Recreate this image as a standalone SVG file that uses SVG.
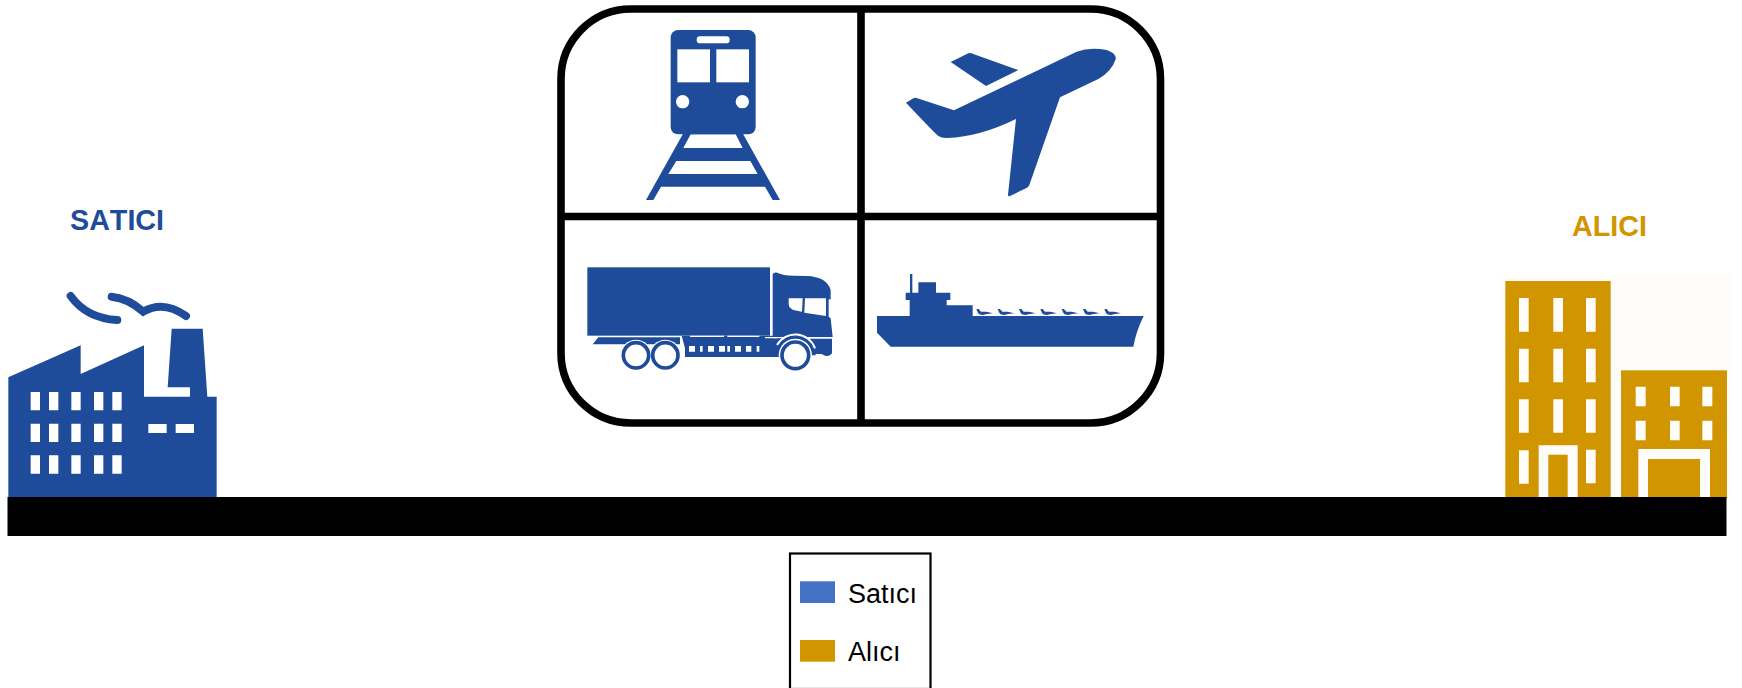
<svg xmlns="http://www.w3.org/2000/svg" width="1742" height="688" viewBox="0 0 1742 688">
<style>
.b{fill:#1E4C9A}
.g{fill:#D19500}
.w{fill:#fff}
.c{fill:#FFFDF9}
.h{font-family:"Liberation Sans",Arial,sans-serif;font-weight:700;font-size:28.7px;font-kerning:none}
.l{font-family:"Liberation Sans",Arial,sans-serif;font-size:27px;fill:#000;font-kerning:none}
</style>
<rect width="1742" height="688" fill="#fff"/>
<g id="satici">
<text class="h" x="70" y="230" fill="#1E4C9A">SATICI</text>
<g transform="translate(0,190) scale(0.33333)">
<path class="b" d="M25,562L242,466V552L432,466V620H570V592H503L515,416H608L622,620H650V925H25Z"/>
<path d="M212,318Q260,385 352,390M335,320Q385,325 430,365Q490,330 558,378" fill="none" stroke="#1E4C9A" stroke-width="24" stroke-linecap="round"/>
<path class="w" d="M92,606h28v55h-28zM147,606h28v55h-28zM214,606h28v55h-28zM282,606h28v55h-28zM337,606h28v55h-28zM92,701h28v55h-28zM147,701h28v55h-28zM214,701h28v55h-28zM282,701h28v55h-28zM337,701h28v55h-28zM92,796h28v55h-28zM147,796h28v55h-28zM214,796h28v55h-28zM282,796h28v55h-28zM337,796h28v55h-28zM445,702h55v27h-55zM527,702h55v27h-55z"/>
</g>
</g>
<g id="alici">
<text class="h" x="1572" y="235.7" fill="#D19500">ALICI</text>
<g transform="translate(1480,190) scale(0.33333)">
<rect class="c" x="55" y="252" width="702" height="673"/>
<rect class="g" x="76" y="273" width="316" height="652"/>
<rect class="g" x="423" y="541" width="318" height="384"/>
<path class="c" d="M117,324h29v101h-29zM220,324h29v101h-29zM318,324h29v101h-29zM117,476h29v101h-29zM220,476h29v101h-29zM318,476h29v101h-29zM117,628h29v100h-29zM220,628h29v100h-29zM318,628h29v100h-29zM117,781h29v100h-29zM318,779h29v101h-29zM176,766h117v159h-117zM467,590h30v59h-30zM570,590h29v59h-29zM667,590h30v59h-30zM467,692h30v59h-30zM570,692h29v59h-29zM667,692h30v59h-30zM475,777h215v148h-215z"/>
<rect class="g" x="205" y="794" width="58" height="131"/>
<rect class="g" x="504" y="807" width="156" height="118"/>
</g>
</g>
<g id="ground"><rect x="7.5" y="497" width="1719" height="39" fill="#000"/></g>
<g id="transport">
<rect x="561" y="9" width="599.5" height="414" rx="70" ry="70" fill="#fff" stroke="#000" stroke-width="7.6"/>
<path d="M861,9V423M561,216.5H1160.5" fill="none" stroke="#000" stroke-width="7.6"/>
</g>
<g id="train" transform="translate(550,0) scale(0.33333)">
<rect class="b" x="362" y="90" width="255" height="313" rx="22"/>
<rect class="w" x="440" y="109" width="99" height="21" rx="10"/>
<rect class="w" x="382" y="148" width="98" height="99"/>
<rect class="w" x="499" y="148" width="98" height="99"/>
<circle class="w" cx="398" cy="305" r="20"/>
<circle class="w" cx="577" cy="305" r="20"/>
<path class="b" fill-rule="evenodd" d="M288,600L400,400H578L690,600H668L645,560H333L310,600ZM422,403L400,444H578L557,403ZM379,483L355,522H623L601,483Z"/>
</g>
<g id="plane" transform="translate(860,0) scale(0.33333)">
<path class="b" d="M272,186L325,160Q332,158 340,162L475,210L378,258Z"/>
<path class="b" d="M138,308L160,295Q166,292 172,295L282,331L650,155Q690,140 740,150Q770,160 767,178Q755,215 715,237L600,292L508,555Q505,562 498,565L450,588Q444,590 444,584L468,357Q360,410 262,414Q245,415 235,408Q220,395 138,308Z"/>
</g>
<g id="truck" transform="translate(550,210) scale(0.33333)">
<rect class="b" x="112" y="172" width="548" height="205"/>
<path class="b" d="M668,192Q672,186 682,188Q700,197 730,197L770,198Q830,200 842,240V268H836V320L842,325L848,381H668Z"/>
<path class="w" d="M716,265H758L756,305L730,300Q716,295 716,280ZM765,265H828V318L763,308Z"/>
<path class="b" d="M128,403L145,382H390V403Z"/>
<path class="b" d="M395,377H672V385H700L690,441H405V415Z"/>
<path class="b" d="M780,386H846V430Q840,440 825,437L815,432H780Z"/>
<path class="w" d="M420,377h102v4h-102zM532,377h96v4h-96zM645,381h35v4h-35zM417,408h18v17h-18zM450,408h8v17h-8zM474,408h18v17h-18zM507,408h18v17h-18zM532,408h8v17h-8zM555,408h18v17h-18zM588,408h16v17h-16zM620,408h8v17h-8z"/>
<path d="M681,436A55,55 0 0 1 791,436" fill="none" stroke="#1E4C9A" stroke-width="12"/>
<path d="M681,405A63,63 0 0 1 795,415" fill="none" stroke="#fff" stroke-width="6"/>
<circle class="w" cx="736" cy="436" r="50"/>
<circle class="w" cx="258" cy="436" r="47"/>
<circle class="w" cx="346" cy="436" r="47"/>
<g fill="#fff" stroke="#1E4C9A" stroke-width="11">
<circle cx="258" cy="436" r="38"/>
<circle cx="346" cy="436" r="38"/>
<circle cx="736" cy="436" r="40"/>
</g>
</g>
<g id="ship" transform="translate(860,210) scale(0.33333)">
<path class="b" d="M51,318H851Q828,365 820,410H92L51,368Z"/>
<path class="b" d="M149,318V270H137V248H150V192H157V248H175V217H228V248H271V270H260V286H338V318Z"/>
<defs><path id="mini" d="M0,0L7,0L14,8L30,8L50,13L32,15L20,18L8,16L4,10Z"/></defs>
<g class="b">
<use href="#mini" x="349" y="297"/>
<use href="#mini" x="413" y="297"/>
<use href="#mini" x="477" y="297"/>
<use href="#mini" x="541" y="297"/>
<use href="#mini" x="605" y="297"/>
<use href="#mini" x="669" y="297"/>
<use href="#mini" x="733" y="297"/>
</g>
</g>
<g id="legend">
<rect x="790" y="553.5" width="140.5" height="135.5" fill="#fff" stroke="#000" stroke-width="2.2"/>
<rect x="800" y="581.3" width="35" height="21.7" fill="#4472C4"/>
<text class="l" x="848" y="602.7">Satıcı</text>
<rect x="800" y="640" width="35" height="21.7" fill="#D19500"/>
<text class="l" x="848" y="660.5">Alıcı</text>
</g>
</svg>
